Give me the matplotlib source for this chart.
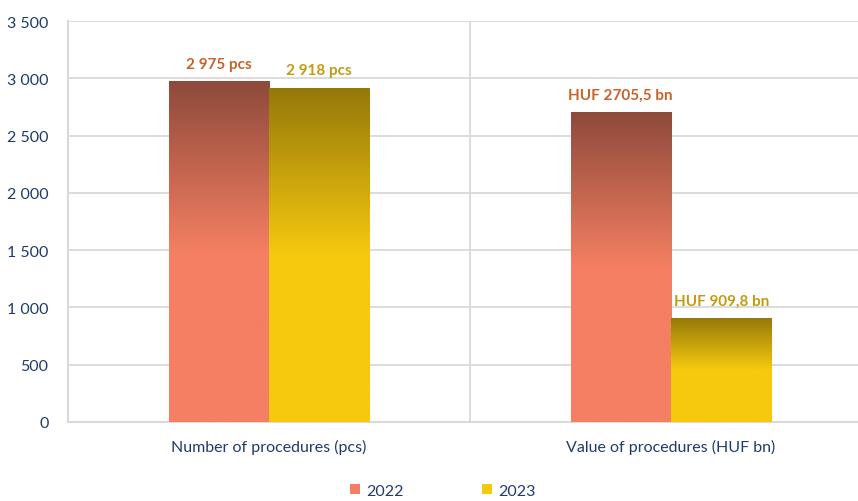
import matplotlib.pyplot as plt
import numpy as np
from matplotlib.colors import LinearSegmentedColormap
from matplotlib.patches import Patch

categories = ["Number of procedures (pcs)", "Value of procedures (HUF bn)"]
years = ["2022", "2023"]
values_2022 = [2975, 2705.5]
values_2023 = [2918, 909.8]
labels_2022 = ["2 975 pcs", "HUF 2705,5 bn"]
labels_2023 = ["2 918 pcs", "HUF 909,8 bn"]
yticks = [0, 500, 1000, 1500, 2000, 2500, 3000, 3500]
ytick_labels = ["0", "500", "1 000", "1 500", "2 000", "2 500", "3 000", "3 500"]

plt.rcParams['font.family'] = ['Lato', 'DejaVu Sans']

navy = "#1F3B6E"
grid_c = "#D9D9D9"
# (top colour, bottom colour, label colour)
styles = {
    "2022": ("#8E4A3B", "#F47F62", "#C8612A"),
    "2023": ("#94780A", "#F6C90E", "#C49A12"),
}

fig = plt.figure(figsize=(8.58, 5.02), dpi=100)
ax = fig.add_axes([68/858, 1 - 423/502, 790/858, 401/502])

x = np.arange(len(categories))
w = 0.25

def gradient_bar(xc, h, top, bottom):
    bar = ax.bar(xc, h, w, color=bottom, zorder=3)[0]
    # dark at top, fading into the base colour halfway down the bar
    g = np.linspace(0, 1, 256).reshape(-1, 1)
    g = np.clip((g - 0.5) / 0.5, 0, 1)
    cmap = LinearSegmentedColormap.from_list("g", [bottom, top])
    im = ax.imshow(g, cmap=cmap, extent=[xc - w/2, xc + w/2, 0, h],
                   origin="lower", aspect="auto", zorder=4,
                   interpolation="bilinear")
    im.set_clip_path(bar)
    return bar

for i in range(len(categories)):
    for yr, vals, labs, off in [("2022", values_2022, labels_2022, -w/2),
                                 ("2023", values_2023, labels_2023, w/2)]:
        top, bottom, lc = styles[yr]
        gradient_bar(x[i] + off, vals[i], top, bottom)
        ax.annotate(labs[i], (x[i] + off, vals[i]), xytext=(0, 12.5),
                    textcoords="offset points", ha="center", va="center",
                    fontsize=11, fontweight="bold", color=lc, zorder=5)

ax.set_xlim(-0.5, 1.465)
ax.set_ylim(0, 3500)
ax.set_yticks(yticks)
ax.set_yticklabels(ytick_labels)
ax.set_xticks(x)
ax.set_xticklabels(categories)
ax.tick_params(axis="both", length=0, colors=navy)
ax.tick_params(axis="y", pad=14, labelsize=11.5)
ax.tick_params(axis="x", pad=12, labelsize=11.5)
ax.grid(axis="y", color=grid_c, linewidth=1.3, zorder=0)
ax.axvline(0.5, color=grid_c, linewidth=1.3, zorder=0)
for s in ["top", "right"]:
    ax.spines[s].set_visible(False)
ax.spines["left"].set_color(grid_c)
ax.spines["left"].set_linewidth(1.5)
ax.spines["bottom"].set_color(grid_c)
ax.spines["bottom"].set_linewidth(1.5)

handles = [Patch(facecolor=styles[y][1], edgecolor="none") for y in years]
fig.legend(handles, years, loc="center", bbox_to_anchor=(0.516, 0.02), ncol=2,
           frameon=False, fontsize=11.5, labelcolor=navy, handlelength=0.6,
           handleheight=0.6, handletextpad=0.4, columnspacing=4.9)

fig.savefig("out.png", dpi=100)
